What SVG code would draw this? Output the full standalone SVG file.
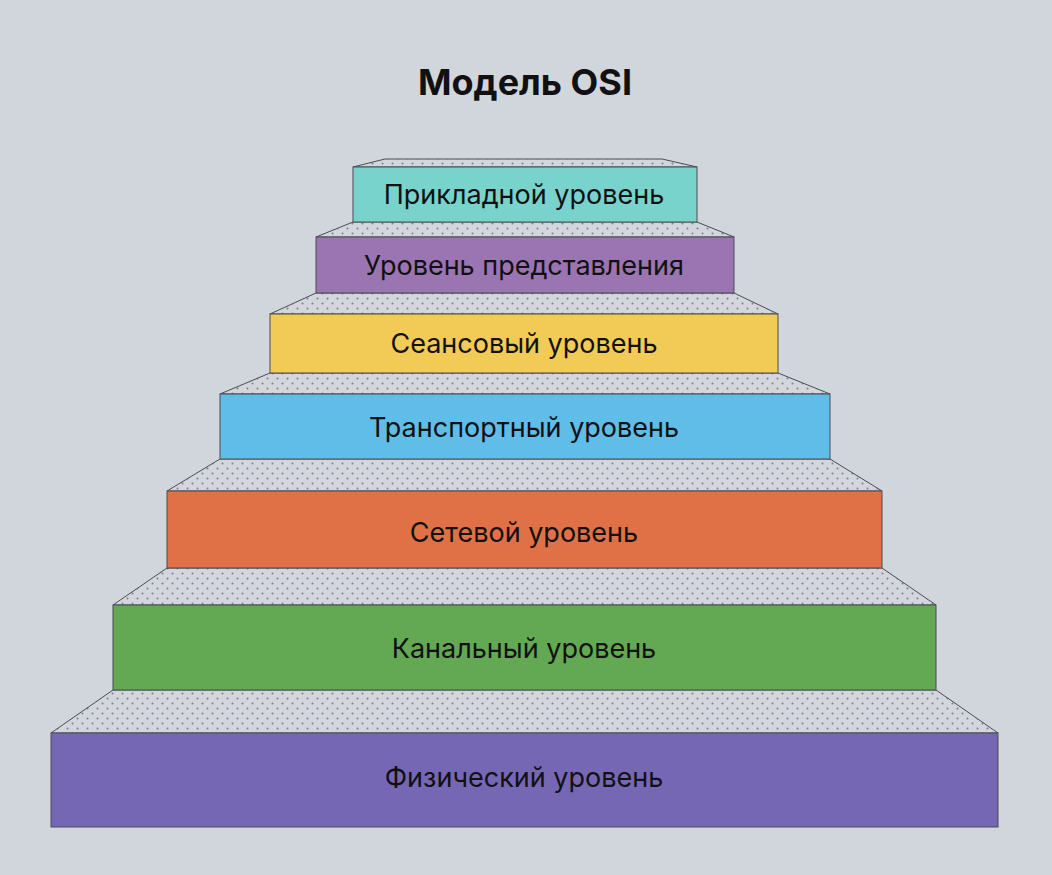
<svg xmlns="http://www.w3.org/2000/svg" width="1052" height="875" viewBox="0 0 1052 875">
<defs>
<pattern id="dots" x="0" y="1" width="10" height="10" patternUnits="userSpaceOnUse">
<rect width="10" height="10" fill="#d3d6dc"/>
<circle cx="2.5" cy="2.5" r="1" fill="#7a7f88"/>
<circle cx="7.5" cy="7.5" r="1" fill="#7a7f88"/>
</pattern>
</defs>
<style>
.face{fill:url(#dots);stroke:#4a4d52;stroke-width:1}
.box{stroke:#4a4d52;stroke-width:1}
.lbl{font-family:Inter,"Noto Sans",sans-serif;font-size:27px;fill:#111;text-anchor:middle;dominant-baseline:central}
.title{font-family:Inter,"Noto Sans",sans-serif;font-size:36px;font-weight:700;fill:#111;text-anchor:middle}
</style>
<rect width="1052" height="875" fill="#d1d5dc"/>
<text class="title" x="525" y="95">Модель OSI</text>
<g id="faces">
<polygon class="face" points="385,159 662,159 697,167 353,167"/>
<polygon class="face" points="353,222 697,222 734,237 316,237"/>
<polygon class="face" points="316,293 734,293 778,314 270,314"/>
<polygon class="face" points="270,373 778,373 830,394 220,394"/>
<polygon class="face" points="220,459 830,459 882,491 167,491"/>
<polygon class="face" points="167,568 882,568 936,605 113,605"/>
<polygon class="face" points="113,690 936,690 998,733 51,733"/>
</g>
<g id="n1"><rect class="box" x="353" y="167" width="344" height="55" fill="#78d3cc"/><text class="lbl" x="524" y="194">Прикладной уровень</text></g>
<g id="n2"><rect class="box" x="316" y="237" width="418" height="56" fill="#9a75b2"/><text class="lbl" x="524" y="265">Уровень представления</text></g>
<g id="n3"><rect class="box" x="270" y="314" width="508" height="59" fill="#f2cb57"/><text class="lbl" x="524" y="343">Сеансовый уровень</text></g>
<g id="n4"><rect class="box" x="220" y="394" width="610" height="65" fill="#5fbde8"/><text class="lbl" x="524" y="427">Транспортный уровень</text></g>
<g id="n5"><rect class="box" x="167" y="491" width="715" height="77" fill="#e07045"/><text class="lbl" x="524" y="532">Сетевой уровень</text></g>
<g id="n6"><rect class="box" x="113" y="605" width="823" height="85" fill="#63a853"/><text class="lbl" x="524" y="648">Канальный уровень</text></g>
<g id="n7"><rect class="box" x="51" y="733" width="947" height="94" fill="#7667b5"/><text class="lbl" x="524" y="777">Физический уровень</text></g>
<g id="connectors"/>
</svg>
